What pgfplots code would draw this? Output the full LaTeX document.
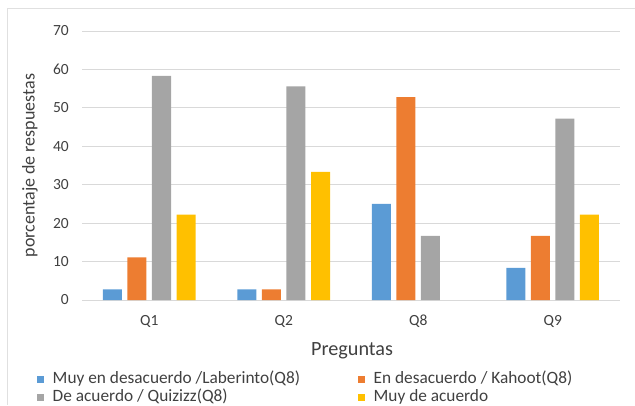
\documentclass[border=0pt]{standalone}
\usepackage{pgfplots}
\pgfplotsset{compat=1.18}
\usepackage{fontspec}
\setmainfont{Carlito}
\definecolor{cblue}{HTML}{5B9BD5}
\definecolor{corange}{HTML}{ED7D31}
\definecolor{cgray}{HTML}{A5A5A5}
\definecolor{cyellow}{HTML}{FFC000}
\definecolor{cgrid}{HTML}{D9D9D9}
\definecolor{ctext}{HTML}{404040}
\begin{document}
\begin{tikzpicture}[x=1pt,y=1pt]
\useasboundingbox (0,0) rectangle (635,405);
\draw[black!12, line width=1pt] (7,0) -- (7,396) -- (635,396);
\begin{axis}[
  at={(82pt,105pt)}, anchor=south west,
  scale only axis, width=538pt, height=269pt,
  xmin=-0.5, xmax=3.5, ymin=0, ymax=70,
  enlargelimits=false,
  ytick={0,10,...,70},
  xtick={0,1,2,3}, xticklabels={Q1,Q2,Q8,Q9},
  axis line style={draw=none},
  major tick length=0pt,
  ymajorgrids, grid style={cgrid, line width=1pt},
  /pgf/number format/assume math mode=true,
  tick label style={font=\fontsize{15.5}{18}\selectfont, text=ctext, inner sep=0pt},
  yticklabel style={anchor=east, xshift=-13pt},
  xticklabel style={anchor=north, yshift=-15pt},
  ylabel={porcentaje de respuestas},
  ylabel style={at={(axis description cs:-0.0967,0.5)}, anchor=center, rotate=0, font=\fontsize{18}{20}\selectfont, text=ctext, inner sep=0pt},
  xlabel={Preguntas},
  xlabel style={at={(axis description cs:0.502,-0.1896)}, anchor=center, font=\fontsize{20.2}{22}\selectfont, text=ctext, inner sep=0pt},
  ybar, bar width=19pt,
  legend columns=2,
  legend cell align=left,
  legend image code/.code={\draw[#1,draw=none] (0pt,-3pt) rectangle (6.5pt,3.5pt);},
  legend style={at={(axis description cs:-0.0836,-0.271)}, anchor=north west,
    draw=none, fill=none, inner sep=0pt,
    font=\fontsize{17.3}{19}\selectfont, text=ctext,
    nodes={inner sep=0pt, text height=10pt, text depth=3pt},
    /tikz/every odd column/.append style={column sep=9pt},
    /tikz/every even column/.append style={column sep=58pt},
    row sep=5pt},
]
\addplot[fill=cblue, draw=none, bar shift=-36.75pt] coordinates {(0,2.78) (1,2.78) (2,25) (3,8.33)};
\addplot[fill=corange, draw=none, bar shift=-12.25pt] coordinates {(0,11.11) (1,2.78) (2,52.78) (3,16.67)};
\addplot[fill=cgray, draw=none, bar shift=12.25pt] coordinates {(0,58.33) (1,55.56) (2,16.67) (3,47.22)};
\addplot[fill=cyellow, draw=none, bar shift=36.75pt] coordinates {(0,22.22) (1,33.33) (3,22.22)};
\legend{Muy en desacuerdo /Laberinto(Q8), En desacuerdo / Kahoot(Q8), De acuerdo / Quizizz(Q8), Muy de acuerdo}
\end{axis}
\end{tikzpicture}
\end{document}
